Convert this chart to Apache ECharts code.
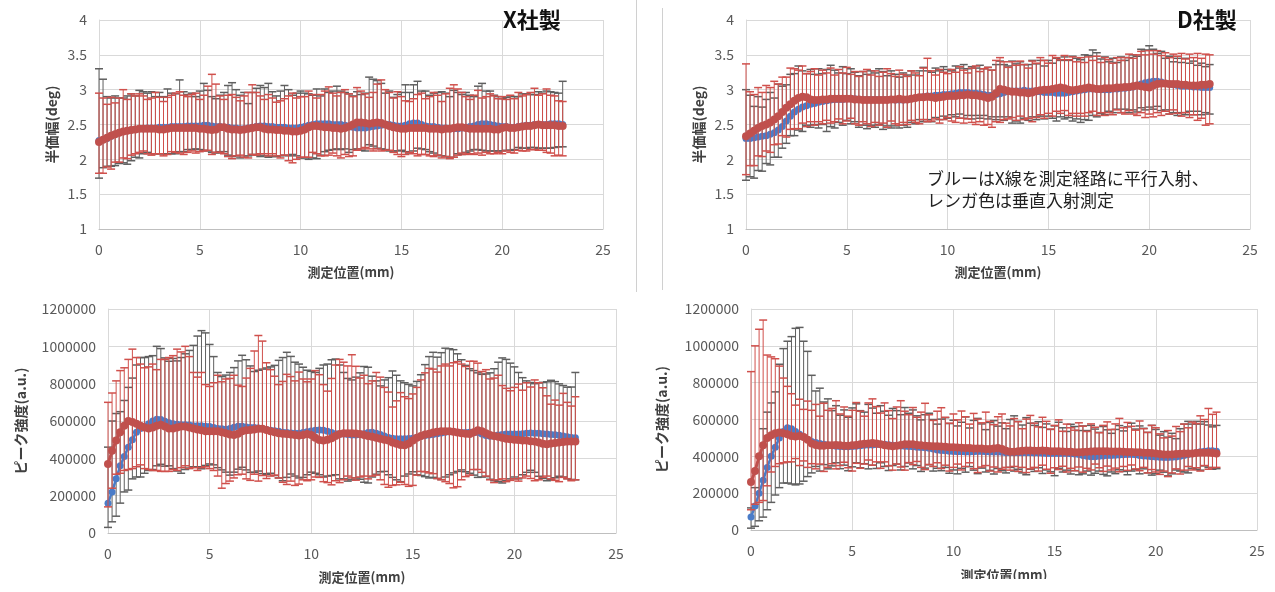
<!DOCTYPE html>
<html><head><meta charset="utf-8">
<script src="https://cdn.jsdelivr.net/npm/echarts@6/dist/echarts.min.js"></script>
<style>html,body{margin:0;padding:0;background:#fff}#c{width:1275px;height:592px}</style>
</head><body><div id="c"></div>
<script>
// measurement positions (mm)
const pos = [0,0.2,0.4,0.6,0.8,1,1.2,1.4,1.6,1.8,2,2.2,2.4,2.6,2.8,3,3.2,3.4,3.6,3.8,4,4.2,4.4,4.6,4.8,5,5.2,5.4,5.6,5.8,6,6.2,6.4,6.6,6.8,7,7.2,7.4,7.6,7.8,8,8.2,8.4,8.6,8.8,9,9.2,9.4,9.6,9.8,10,10.2,10.4,10.6,10.8,11,11.2,11.4,11.6,11.8,12,12.2,12.4,12.6,12.8,13,13.2,13.4,13.6,13.8,14,14.2,14.4,14.6,14.8,15,15.2,15.4,15.6,15.8,16,16.2,16.4,16.6,16.8,17,17.2,17.4,17.6,17.8,18,18.2,18.4,18.6,18.8,19,19.2,19.4,19.6,19.8,20,20.2,20.4,20.6,20.8,21,21.2,21.4,21.6,21.8,22,22.2,22.4,22.6,22.8,23];

// ---- X社 半価幅 ----
const xFwhmBlue = [2.27,2.28,2.30,2.33,2.36,2.38,2.40,2.41,2.42,2.43, 2.44,2.44,2.45,2.45,2.45,2.46,2.46,2.46,2.47,2.47, 2.47,2.47,2.48,2.48,2.48,2.48,2.49,2.49,2.48,2.47, 2.47,2.46,2.46,2.45,2.45,2.44,2.44,2.45,2.46,2.47, 2.48,2.48,2.47,2.47,2.46,2.46,2.46,2.45,2.45,2.45, 2.46,2.47,2.49,2.50,2.51,2.51,2.51,2.51,2.50,2.50, 2.50,2.49,2.48,2.46,2.45,2.45,2.45,2.46,2.47,2.48, 2.49,2.50,2.50,2.49,2.48,2.48,2.49,2.51,2.52,2.52, 2.50,2.48,2.47,2.47,2.46,2.45,2.45,2.44,2.44,2.44, 2.45,2.46,2.47,2.48,2.50,2.51,2.51,2.50,2.49,2.48, 2.47,2.47,2.46,2.46,2.47,2.48,2.49,2.49,2.50,2.50, 2.50,2.50,2.51,2.51,2.51,2.50];
const xFwhmBlueUp = [1.03,0.87,0.60,0.55,0.55,0.50,0.48,0.50,0.52,0.48, 0.55,0.53,0.50,0.52,0.45,0.50,0.44,0.55,0.48,0.47, 0.67,0.50,0.45,0.47,0.42,0.50,0.60,0.50,0.42,0.40, 0.45,0.50,0.60,0.65,0.55,0.48,0.52,0.35,0.50,0.55, 0.58,0.55,0.62,0.50,0.45,0.52,0.60,0.55,0.47,0.50, 0.52,0.48,0.45,0.42,0.50,0.40,0.50,0.45,0.48,0.55, 0.48,0.47,0.46,0.45,0.52,0.48,0.50,0.72,0.68,0.65, 0.60,0.45,0.48,0.40,0.45,0.48,0.58,0.45,0.55,0.60, 0.48,0.50,0.45,0.48,0.50,0.52,0.50,0.46,0.55,0.52, 0.48,0.50,0.45,0.42,0.55,0.58,0.47,0.48,0.43,0.42, 0.40,0.42,0.45,0.44,0.43,0.46,0.45,0.44,0.43,0.47, 0.45,0.48,0.46,0.45,0.44,0.62];
const xFwhmBlueDown = [0.54,0.40,0.40,0.43,0.45,0.44,0.45,0.48,0.44,0.40, 0.42,0.36,0.35,0.37,0.37,0.38,0.38,0.38,0.39,0.39, 0.36,0.36,0.34,0.34,0.33,0.34,0.36,0.37,0.38,0.38, 0.36,0.35,0.40,0.41,0.40,0.42,0.41,0.40,0.39,0.41, 0.44,0.43,0.44,0.43,0.42,0.41,0.40,0.40,0.38,0.40, 0.44,0.45,0.49,0.48,0.50,0.45,0.40,0.38,0.36,0.35, 0.36,0.34,0.38,0.32,0.30,0.32,0.33,0.25,0.28,0.32, 0.34,0.36,0.38,0.37,0.36,0.35,0.38,0.42,0.40,0.36, 0.35,0.34,0.36,0.38,0.40,0.40,0.41,0.42,0.41,0.36, 0.38,0.36,0.35,0.34,0.36,0.38,0.39,0.38,0.37,0.36, 0.35,0.34,0.33,0.32,0.30,0.32,0.33,0.32,0.33,0.34, 0.34,0.34,0.35,0.34,0.33,0.32];
const xFwhmRed = [2.25,2.28,2.31,2.34,2.36,2.38,2.40,2.41,2.42,2.43, 2.44,2.44,2.44,2.44,2.44,2.43,2.43,2.44,2.45,2.45, 2.45,2.45,2.45,2.45,2.45,2.44,2.44,2.43,2.42,2.43, 2.46,2.46,2.44,2.43,2.43,2.42,2.43,2.44,2.45,2.46, 2.46,2.44,2.43,2.43,2.42,2.42,2.41,2.41,2.40,2.40, 2.41,2.43,2.46,2.48,2.48,2.47,2.46,2.46,2.45,2.45, 2.44,2.45,2.47,2.50,2.53,2.53,2.52,2.51,2.52,2.53, 2.52,2.50,2.48,2.46,2.45,2.44,2.44,2.45,2.45,2.45, 2.45,2.45,2.44,2.44,2.44,2.43,2.44,2.44,2.45,2.46, 2.46,2.45,2.44,2.44,2.44,2.44,2.44,2.44,2.43,2.43, 2.45,2.46,2.45,2.45,2.46,2.47,2.48,2.48,2.49,2.50, 2.49,2.49,2.49,2.49,2.48,2.48];
const xFwhmRedUp = [0.70,0.60,0.48,0.55,0.45,0.50,0.60,0.45,0.52,0.48, 0.50,0.47,0.42,0.44,0.52,0.46,0.40,0.45,0.47,0.50, 0.52,0.47,0.45,0.48,0.50,0.42,0.48,0.62,0.80,0.65, 0.45,0.40,0.48,0.50,0.46,0.42,0.48,0.52,0.62,0.50, 0.45,0.42,0.50,0.45,0.40,0.42,0.46,0.50,0.55,0.48, 0.49,0.47,0.52,0.45,0.40,0.46,0.52,0.58,0.50,0.46, 0.52,0.55,0.47,0.40,0.50,0.45,0.42,0.38,0.44,0.55, 0.62,0.50,0.48,0.42,0.52,0.46,0.40,0.38,0.42,0.48, 0.50,0.42,0.46,0.52,0.48,0.40,0.50,0.58,0.62,0.55, 0.50,0.45,0.42,0.48,0.55,0.44,0.46,0.50,0.48,0.44, 0.45,0.40,0.47,0.42,0.50,0.44,0.45,0.48,0.53,0.42, 0.45,0.52,0.43,0.42,0.36,0.35];
const xFwhmRedDown = [0.45,0.48,0.42,0.48,0.40,0.42,0.38,0.40,0.36,0.35, 0.34,0.32,0.36,0.38,0.36,0.35,0.38,0.37,0.34,0.35, 0.36,0.38,0.35,0.33,0.36,0.33,0.32,0.30,0.35,0.33, 0.36,0.38,0.40,0.42,0.38,0.36,0.40,0.42,0.38,0.40, 0.38,0.36,0.38,0.35,0.37,0.40,0.35,0.43,0.45,0.40, 0.38,0.40,0.43,0.38,0.40,0.42,0.41,0.40,0.36,0.40, 0.42,0.38,0.43,0.45,0.40,0.38,0.35,0.36,0.40,0.38, 0.40,0.37,0.35,0.36,0.38,0.40,0.37,0.35,0.37,0.40, 0.38,0.38,0.39,0.40,0.38,0.41,0.40,0.43,0.42,0.40, 0.37,0.38,0.36,0.37,0.35,0.38,0.34,0.36,0.35,0.33, 0.37,0.34,0.35,0.36,0.33,0.35,0.36,0.34,0.35,0.37, 0.36,0.39,0.40,0.44,0.42,0.43];

// ---- D社 半価幅 ----
const dFwhmBlue = [2.30,2.30,2.31,2.32,2.33,2.34,2.36,2.38,2.42,2.47, 2.55,2.62,2.68,2.72,2.75,2.77,2.79,2.80,2.82,2.83, 2.84,2.85,2.86,2.86,2.86,2.87,2.87,2.87,2.86,2.86, 2.86,2.86,2.86,2.86,2.86,2.86,2.86,2.85,2.85,2.85, 2.86,2.87,2.88,2.89,2.90,2.91,2.91,2.92,2.92,2.93, 2.93,2.94,2.95,2.96,2.96,2.96,2.95,2.95,2.94,2.93, 2.92,2.92,2.93,2.94,2.96,2.98,2.98,2.98,2.98,2.99, 2.98,2.98,2.97,2.97,2.96,2.96,2.96,2.95,2.95,2.95, 2.96,2.97,2.98,2.99,3.00,3.01,3.01,3.01,3.00,3.00, 3.00,3.01,3.01,3.02,3.02,3.03,3.04,3.06,3.08,3.10, 3.11,3.12,3.12,3.11,3.09,3.08,3.07,3.06,3.05,3.05, 3.05,3.04,3.04,3.03,3.03,3.03];
const dFwhmBlueUp = [0.70,0.62,0.45,0.58,0.42,0.52,0.60,0.50,0.66,0.58, 0.52,0.60,0.55,0.62,0.52,0.46,0.50,0.42,0.48,0.40, 0.45,0.50,0.42,0.38,0.47,0.36,0.43,0.38,0.34,0.40, 0.36,0.41,0.38,0.44,0.40,0.34,0.41,0.37,0.33,0.39, 0.35,0.40,0.33,0.38,0.42,0.36,0.34,0.39,0.35,0.40, 0.36,0.33,0.39,0.35,0.40,0.34,0.38,0.36,0.41,0.37, 0.40,0.36,0.43,0.47,0.40,0.36,0.43,0.39,0.42,0.37, 0.38,0.44,0.40,0.45,0.38,0.46,0.42,0.50,0.47,0.52, 0.46,0.51,0.47,0.44,0.50,0.48,0.56,0.52,0.44,0.47, 0.40,0.44,0.38,0.45,0.40,0.43,0.46,0.42,0.50,0.47, 0.52,0.46,0.40,0.44,0.36,0.40,0.33,0.39,0.34,0.40, 0.33,0.37,0.31,0.35,0.30,0.33];
const dFwhmBlueDown = [0.60,0.55,0.58,0.48,0.50,0.40,0.44,0.35,0.39,0.31, 0.32,0.28,0.34,0.30,0.35,0.28,0.33,0.30,0.37,0.33, 0.44,0.38,0.41,0.33,0.37,0.31,0.36,0.33,0.40,0.37, 0.42,0.37,0.40,0.36,0.43,0.38,0.41,0.37,0.40,0.36, 0.40,0.34,0.37,0.32,0.36,0.34,0.37,0.32,0.35,0.31, 0.34,0.30,0.34,0.31,0.37,0.33,0.37,0.32,0.35,0.30, 0.34,0.31,0.36,0.33,0.40,0.37,0.46,0.43,0.46,0.40, 0.42,0.37,0.40,0.35,0.38,0.34,0.37,0.40,0.34,0.37, 0.36,0.42,0.40,0.46,0.43,0.45,0.38,0.40,0.34,0.36, 0.31,0.34,0.29,0.35,0.30,0.36,0.33,0.38,0.34,0.39, 0.36,0.40,0.36,0.41,0.38,0.43,0.40,0.43,0.38,0.41, 0.36,0.40,0.35,0.39,0.36,0.38];
const dFwhmRed = [2.33,2.37,2.41,2.45,2.48,2.50,2.53,2.57,2.62,2.68, 2.74,2.79,2.84,2.88,2.90,2.89,2.86,2.85,2.85,2.86, 2.86,2.87,2.87,2.87,2.87,2.87,2.87,2.86,2.86,2.85, 2.85,2.85,2.85,2.85,2.85,2.85,2.86,2.86,2.87,2.86, 2.86,2.87,2.88,2.89,2.89,2.90,2.89,2.88,2.89,2.90, 2.91,2.91,2.91,2.92,2.92,2.93,2.92,2.92,2.91,2.90, 2.88,2.90,2.95,3.01,3.00,2.98,2.97,2.97,2.96,2.96, 2.95,2.96,2.98,2.99,3.00,3.00,3.01,3.02,3.03,3.02, 3.00,2.99,3.00,3.01,3.02,3.03,3.02,3.01,3.01,3.02, 3.02,3.02,3.03,3.03,3.04,3.04,3.05,3.06,3.05,3.04, 3.03,3.06,3.08,3.09,3.09,3.08,3.08,3.08,3.07,3.07, 3.06,3.06,3.06,3.07,3.07,3.08];
const dFwhmRedUp = [1.04,0.60,0.52,0.58,0.48,0.56,0.50,0.55,0.46,0.50, 0.44,0.52,0.46,0.40,0.44,0.34,0.40,0.45,0.36,0.42, 0.38,0.44,0.34,0.42,0.37,0.45,0.35,0.40,0.33,0.41, 0.44,0.36,0.42,0.34,0.40,0.45,0.37,0.33,0.41,0.36, 0.33,0.40,0.36,0.31,0.42,0.55,0.38,0.33,0.40,0.35, 0.32,0.38,0.34,0.41,0.36,0.31,0.39,0.42,0.35,0.40, 0.44,0.38,0.47,0.45,0.40,0.34,0.43,0.38,0.45,0.40, 0.36,0.45,0.40,0.47,0.42,0.38,0.48,0.44,0.40,0.47, 0.43,0.48,0.40,0.45,0.37,0.44,0.40,0.47,0.38,0.44, 0.41,0.36,0.43,0.39,0.42,0.47,0.40,0.44,0.50,0.46, 0.53,0.45,0.48,0.40,0.44,0.38,0.43,0.40,0.45,0.37, 0.45,0.40,0.46,0.38,0.44,0.42];
const dFwhmRedDown = [0.55,0.46,0.50,0.40,0.44,0.38,0.43,0.36,0.40,0.34, 0.42,0.36,0.40,0.44,0.38,0.42,0.32,0.36,0.31,0.35, 0.30,0.35,0.33,0.29,0.36,0.32,0.28,0.35,0.37,0.31, 0.34,0.38,0.32,0.36,0.33,0.39,0.31,0.35,0.38,0.33, 0.36,0.31,0.35,0.38,0.32,0.36,0.34,0.30,0.37,0.33, 0.31,0.36,0.38,0.33,0.40,0.35,0.39,0.42,0.37,0.41, 0.38,0.44,0.41,0.48,0.43,0.40,0.37,0.41,0.34,0.39, 0.36,0.42,0.38,0.35,0.41,0.34,0.39,0.33,0.37,0.32, 0.37,0.33,0.38,0.35,0.40,0.36,0.33,0.38,0.34,0.39, 0.35,0.38,0.32,0.36,0.39,0.34,0.40,0.43,0.38,0.44, 0.38,0.45,0.41,0.46,0.40,0.43,0.37,0.42,0.45,0.40, 0.46,0.42,0.50,0.48,0.58,0.57];

// ---- X社 ピーク強度 ----
const xPeakBlue = [160000,220000,290000,360000,410000,460000,500000,540000,560000,570000, 585000,600000,610000,608000,598000,590000,585000,582000,580000,580000, 578000,575000,575000,574000,572000,570000,565000,560000,558000,556000, 560000,566000,572000,572000,568000,565000,565000,562000,558000,554000, 550000,548000,545000,540000,538000,536000,535000,535000,538000,542000, 546000,550000,552000,550000,545000,538000,532000,530000,530000,528000, 525000,525000,528000,532000,538000,540000,535000,528000,520000,512000, 508000,505000,505000,505000,506000,508000,512000,518000,522000,525000, 528000,532000,536000,540000,542000,542000,540000,538000,538000,540000, 540000,538000,530000,522000,518000,520000,525000,528000,530000,530000, 530000,530000,532000,535000,536000,535000,534000,532000,530000,528000, 526000,524000,520000,516000,512000,510000];
const xPeakBlueUp = [300000,380000,350000,290000,300000,320000,330000,360000,380000,370000, 360000,350000,390000,380000,340000,330000,350000,340000,360000,380000, 400000,430000,480000,510000,500000,440000,380000,300000,280000,290000, 300000,320000,350000,380000,360000,330000,300000,310000,320000,330000, 340000,350000,380000,400000,430000,410000,380000,370000,350000,330000, 320000,310000,330000,350000,360000,390000,400000,370000,330000,300000, 295000,310000,330000,360000,350000,300000,280000,260000,300000,320000, 360000,340000,310000,300000,290000,280000,300000,330000,380000,420000, 440000,410000,430000,450000,445000,440000,420000,390000,360000,340000, 330000,320000,320000,330000,340000,360000,390000,410000,400000,380000, 360000,330000,300000,280000,270000,265000,270000,275000,280000,290000, 285000,275000,270000,265000,270000,350000];
const xPeakBlueDown = [130000,160000,200000,200000,190000,230000,210000,240000,260000,250000, 250000,260000,250000,240000,240000,230000,240000,250000,260000,240000, 230000,220000,220000,230000,210000,200000,200000,210000,220000,230000, 250000,240000,230000,220000,230000,240000,240000,230000,240000,240000, 230000,240000,250000,260000,240000,220000,230000,240000,240000,230000, 220000,230000,240000,250000,240000,230000,220000,240000,240000,250000, 240000,230000,240000,260000,270000,240000,220000,200000,190000,200000, 210000,220000,230000,200000,190000,180000,200000,210000,220000,230000, 230000,240000,250000,240000,230000,220000,210000,200000,210000,220000, 230000,240000,230000,220000,230000,240000,250000,260000,250000,240000, 230000,240000,220000,210000,200000,210000,230000,240000,250000,240000, 230000,220000,220000,225000,225000,225000];
const xPeakRed = [370000,440000,495000,540000,575000,600000,595000,585000,575000,565000, 560000,565000,575000,580000,570000,560000,560000,565000,570000,570000, 565000,560000,555000,550000,545000,545000,545000,545000,540000,535000, 528000,525000,532000,545000,550000,552000,555000,558000,558000,552000, 545000,540000,535000,532000,530000,528000,525000,522000,525000,530000, 525000,510000,498000,495000,500000,508000,520000,530000,535000,535000, 535000,533000,530000,525000,520000,515000,510000,505000,500000,495000, 485000,478000,472000,470000,480000,495000,510000,520000,528000,532000, 538000,542000,545000,545000,545000,542000,538000,535000,532000,530000, 540000,550000,545000,535000,525000,520000,515000,510000,505000,502000, 500000,498000,495000,495000,492000,490000,485000,478000,475000,480000, 482000,485000,488000,490000,490000,490000];
const xPeakRedUp = [330000,310000,320000,330000,310000,330000,390000,355000,330000,320000, 330000,340000,300000,350000,360000,380000,390000,420000,400000,430000, 380000,300000,280000,310000,250000,240000,260000,300000,270000,290000, 300000,320000,260000,240000,280000,330000,420000,500000,470000,360000, 330000,300000,260000,280000,320000,310000,290000,340000,300000,280000, 300000,360000,350000,300000,260000,320000,380000,400000,380000,360000, 420000,360000,300000,320000,280000,300000,350000,330000,280000,260000, 190000,230000,280000,260000,240000,250000,270000,300000,330000,350000, 340000,320000,350000,360000,350000,370000,380000,370000,360000,390000, 380000,360000,320000,340000,300000,310000,330000,280000,270000,260000, 280000,300000,270000,310000,290000,330000,320000,300000,260000,210000, 230000,200000,260000,210000,190000,240000];
const xPeakRedDown = [230000,200000,180000,220000,240000,260000,250000,230000,210000,220000, 220000,230000,240000,250000,240000,230000,220000,230000,220000,210000, 220000,210000,220000,200000,190000,200000,210000,240000,300000,270000, 250000,230000,220000,230000,260000,270000,240000,280000,250000,260000, 240000,230000,240000,260000,270000,250000,270000,260000,240000,250000, 240000,210000,200000,220000,230000,250000,240000,260000,250000,230000, 240000,250000,230000,220000,230000,210000,200000,220000,240000,250000, 230000,220000,200000,210000,230000,240000,200000,190000,200000,210000, 220000,250000,260000,270000,280000,300000,290000,250000,230000,220000, 200000,210000,220000,230000,240000,250000,230000,220000,230000,220000, 210000,220000,200000,190000,200000,210000,200000,180000,170000,190000, 200000,210000,190000,200000,210000,205000];

// ---- D社 ピーク強度 ----
const dPeakBlue = [70000,130000,200000,270000,340000,400000,450000,500000,535000,555000, 550000,535000,520000,505000,490000,480000,475000,470000,465000,462000, 458000,455000,453000,452000,452000,453000,455000,458000,460000,462000, 462000,464000,465000,465000,463000,460000,458000,456000,455000,454000, 452000,450000,448000,446000,444000,440000,435000,432000,430000,428000, 426000,425000,425000,424000,424000,425000,426000,426000,425000,424000, 424000,424000,422000,420000,420000,420000,420000,420000,420000,420000, 418000,418000,417000,416000,416000,415000,415000,415000,415000,414000, 412000,410000,405000,400000,398000,398000,400000,402000,404000,405000, 406000,407000,408000,410000,410000,408000,405000,402000,400000,398000, 396000,395000,394000,394000,395000,396000,400000,405000,410000,415000, 420000,425000,428000,430000,430000,428000];
const dPeakBlueUp = [50000,100000,200000,280000,300000,290000,300000,400000,450000,470000, 500000,560000,580000,520000,480000,360000,280000,300000,230000,250000, 190000,220000,170000,200000,160000,210000,230000,190000,180000,220000, 200000,170000,210000,180000,160000,200000,190000,170000,210000,180000, 200000,170000,150000,180000,190000,160000,140000,170000,180000,150000, 170000,140000,160000,190000,130000,170000,180000,150000,120000,160000, 170000,140000,160000,130000,180000,200000,170000,150000,190000,160000, 150000,170000,140000,160000,130000,150000,170000,140000,120000,160000, 150000,130000,160000,140000,170000,150000,130000,160000,140000,120000, 140000,160000,130000,150000,170000,140000,160000,150000,130000,170000, 150000,120000,140000,110000,130000,100000,150000,170000,180000,160000, 170000,150000,160000,140000,130000,140000];
const dPeakBlueDown = [60000,110000,150000,200000,230000,250000,260000,270000,280000,300000, 300000,290000,270000,240000,200000,170000,130000,150000,110000,130000, 110000,90000,120000,100000,130000,110000,90000,120000,100000,130000, 110000,130000,100000,120000,140000,110000,100000,130000,110000,90000, 120000,100000,130000,110000,90000,120000,100000,110000,90000,120000, 100000,120000,90000,110000,80000,100000,120000,90000,110000,100000, 120000,90000,100000,110000,80000,100000,90000,110000,120000,90000, 100000,80000,110000,90000,100000,120000,80000,100000,90000,110000, 90000,110000,100000,80000,100000,90000,80000,100000,110000,90000, 100000,80000,90000,110000,90000,80000,100000,70000,90000,100000, 90000,70000,80000,100000,90000,70000,80000,90000,100000,80000, 90000,100000,80000,90000,100000,95000];
const dPeakRed = [260000,320000,400000,460000,500000,515000,525000,530000,525000,520000, 510000,508000,510000,505000,490000,470000,462000,458000,458000,460000, 460000,462000,460000,458000,458000,460000,462000,465000,468000,470000, 472000,470000,465000,460000,458000,455000,458000,462000,465000,466000, 465000,462000,460000,458000,456000,455000,455000,454000,452000,450000, 450000,448000,446000,445000,445000,443000,442000,442000,440000,440000, 442000,445000,440000,430000,425000,425000,428000,430000,432000,432000, 430000,430000,432000,430000,428000,428000,428000,426000,425000,425000, 422000,422000,424000,425000,426000,428000,428000,428000,427000,426000, 426000,426000,425000,424000,423000,422000,422000,420000,420000,418000, 415000,412000,410000,410000,410000,412000,414000,415000,415000,416000, 418000,420000,420000,420000,418000,415000];
const dPeakRedUp = [600000,680000,690000,680000,450000,425000,405000,360000,300000,260000, 230000,170000,200000,150000,210000,180000,220000,160000,230000,190000, 200000,240000,170000,210000,160000,190000,230000,180000,150000,220000, 240000,200000,170000,230000,190000,150000,210000,240000,180000,160000, 200000,150000,180000,230000,170000,140000,190000,210000,160000,130000, 180000,150000,200000,170000,130000,190000,160000,140000,200000,150000, 130000,170000,190000,150000,140000,180000,160000,120000,170000,190000, 150000,130000,180000,160000,120000,140000,170000,110000,150000,130000, 120000,160000,140000,110000,150000,130000,100000,140000,160000,120000, 150000,180000,130000,160000,140000,120000,170000,130000,110000,150000, 140000,110000,90000,130000,100000,150000,120000,160000,140000,170000, 160000,200000,180000,240000,210000,225000];
const dPeakRedDown = [150000,180000,250000,300000,260000,200000,180000,170000,160000,150000, 140000,120000,160000,130000,150000,110000,130000,100000,140000,120000, 100000,130000,110000,90000,120000,140000,100000,130000,110000,90000, 120000,100000,130000,90000,110000,130000,100000,120000,140000,100000, 110000,90000,120000,130000,100000,110000,90000,120000,100000,130000, 110000,90000,120000,100000,80000,110000,130000,100000,90000,120000, 100000,130000,110000,90000,100000,80000,110000,90000,120000,100000, 90000,110000,80000,100000,120000,90000,100000,80000,110000,90000, 100000,80000,110000,90000,100000,70000,90000,110000,80000,100000, 90000,110000,80000,100000,70000,90000,100000,80000,110000,90000, 100000,110000,90000,120000,100000,80000,110000,90000,70000,90000, 80000,100000,70000,90000,80000,75000];

// tick settings
const fwhmTicks = {min: 1, max: 4, interval: 0.5};
const peakTicks = {min: 0, max: 1200000, interval: 200000};
const posTicks = {min: 0, max: 25, interval: 5};

// ---------------------------------------------------------------
const BLUE = '#4a7cc8', RED = '#c0504d', GRAY_ERR = '#5f5f5f', RED_ERR = '#d0504c';
const FONT = '"Noto Sans CJK JP","Noto Sans",sans-serif';
const chart = echarts.init(document.getElementById('c'), null, {renderer: 'canvas'});

const grids = [
  {left: 99, top: 20, width: 504, height: 209},
  {left: 746, top: 20, width: 504, height: 209},
  {left: 108, top: 309, width: 508, height: 224},
  {left: 751, top: 309, width: 506, height: 221}
];
const xNameGap = [37, 37, 38, 39];
const yCfg = [
  {t: fwhmTicks, name: '半価幅(deg)', gap: 40},
  {t: fwhmTicks, name: '半価幅(deg)', gap: 40},
  {t: peakTicks, name: 'ピーク強度(a.u.)', gap: 80},
  {t: peakTicks, name: 'ピーク強度(a.u.)', gap: 82}
];

const xAxes = grids.map((g, i) => ({
  gridIndex: i, type: 'value', min: posTicks.min, max: posTicks.max, interval: posTicks.interval,
  name: '測定位置(mm)', nameLocation: 'middle', nameGap: xNameGap[i],
  nameTextStyle: {fontFamily: FONT, fontSize: 13, fontWeight: 'bold', color: '#404040'},
  axisLine: {show: true, lineStyle: {color: '#bfbfbf', width: 1}},
  axisTick: {show: false},
  axisLabel: {fontFamily: FONT, fontSize: 14, color: '#595959', margin: 14},
  splitLine: {show: true, lineStyle: {color: '#d9d9d9', width: 1}}
}));
const yAxes = yCfg.map((c, i) => ({
  gridIndex: i, type: 'value', min: c.t.min, max: c.t.max, interval: c.t.interval,
  name: c.name, nameLocation: 'middle', nameGap: c.gap, nameRotate: 90,
  nameTextStyle: {fontFamily: FONT, fontSize: 14, fontWeight: 'bold', color: '#404040'},
  axisLine: {show: true, lineStyle: {color: '#d9d9d9', width: 1}},
  axisTick: {show: false},
  axisLabel: {fontFamily: FONT, fontSize: 14, color: '#595959', margin: 12,
    formatter: function (v) { return String(v); }},
  splitLine: {show: true, lineStyle: {color: '#d9d9d9', width: 1}}
}));

function errData(mean, up, down) {
  return pos.map((x, i) => [x, mean[i] - down[i], mean[i] + up[i]]);
}
function lineData(mean) { return pos.map((x, i) => [x, mean[i]]); }

function errSeries(idx, mean, up, down, color, z) {
  return {
    type: 'custom', xAxisIndex: idx, yAxisIndex: idx, z: z, silent: true,
    data: errData(mean, up, down),
    encode: {x: 0, y: [1, 2]},
    renderItem: function (params, api) {
      const lo = api.coord([api.value(0), api.value(1)]);
      const hi = api.coord([api.value(0), api.value(2)]);
      const hw = 4;
      const st = {stroke: color, lineWidth: 1};
      return {
        type: 'group', children: [
          {type: 'line', shape: {x1: hi[0], y1: hi[1], x2: lo[0], y2: lo[1]}, style: st},
          {type: 'line', shape: {x1: hi[0] - hw, y1: hi[1], x2: hi[0] + hw, y2: hi[1]}, style: {stroke: color, lineWidth: 1.5}},
          {type: 'line', shape: {x1: lo[0] - hw, y1: lo[1], x2: lo[0] + hw, y2: lo[1]}, style: {stroke: color, lineWidth: 1.5}}
        ]
      };
    }
  };
}
function meanSeries(idx, mean, color, size, width, z) {
  return {
    type: 'line', xAxisIndex: idx, yAxisIndex: idx, z: z, silent: true,
    data: lineData(mean), symbol: 'circle', symbolSize: size, showSymbol: true,
    lineStyle: {color: color, width: width}, itemStyle: {color: color}
  };
}

const sets = [
  [xFwhmBlue, xFwhmBlueUp, xFwhmBlueDown, xFwhmRed, xFwhmRedUp, xFwhmRedDown],
  [dFwhmBlue, dFwhmBlueUp, dFwhmBlueDown, dFwhmRed, dFwhmRedUp, dFwhmRedDown],
  [xPeakBlue, xPeakBlueUp, xPeakBlueDown, xPeakRed, xPeakRedUp, xPeakRedDown],
  [dPeakBlue, dPeakBlueUp, dPeakBlueDown, dPeakRed, dPeakRedUp, dPeakRedDown]
];
const series = [];
sets.forEach((s, i) => {
  series.push(errSeries(i, s[0], s[1], s[2], GRAY_ERR, 2));
  series.push(meanSeries(i, s[0], BLUE, 7, 2.5, 3));
  series.push(errSeries(i, s[3], s[4], s[5], RED_ERR, 4));
  series.push(meanSeries(i, s[3], RED, 8, 3, 5));
});

chart.setOption({
  animation: false,
  backgroundColor: '#ffffff',
  grid: grids,
  xAxis: xAxes,
  yAxis: yAxes,
  series: series,
  graphic: [
    {type: 'line', shape: {x1: 636.5, y1: 0, x2: 636.5, y2: 292}, style: {stroke: '#d0d0d0', lineWidth: 1}, z: 0},
    {type: 'line', shape: {x1: 662.5, y1: 8, x2: 662.5, y2: 290}, style: {stroke: '#d0d0d0', lineWidth: 1}, z: 0},
    {type: 'text', left: 503, top: 9, z: 10, style: {text: 'X社製', font: 'bold 22px ' + FONT, fill: '#111'}},
    {type: 'text', left: 1177, top: 9, z: 10, style: {text: 'D社製', font: 'bold 22px ' + FONT, fill: '#111'}},
    {type: 'text', left: 927, top: 170, z: 10, style: {text: 'ブルーはX線を測定経路に平行入射、', font: '17px ' + FONT, fill: '#222'}},
    {type: 'text', left: 927, top: 192, z: 10, style: {text: 'レンガ色は垂直入射測定', font: '17px ' + FONT, fill: '#222'}},
    {type: 'rect', shape: {x: 640, y: 579, width: 635, height: 13}, style: {fill: '#ffffff'}, z: 100}
  ]
});
</script></body></html>
